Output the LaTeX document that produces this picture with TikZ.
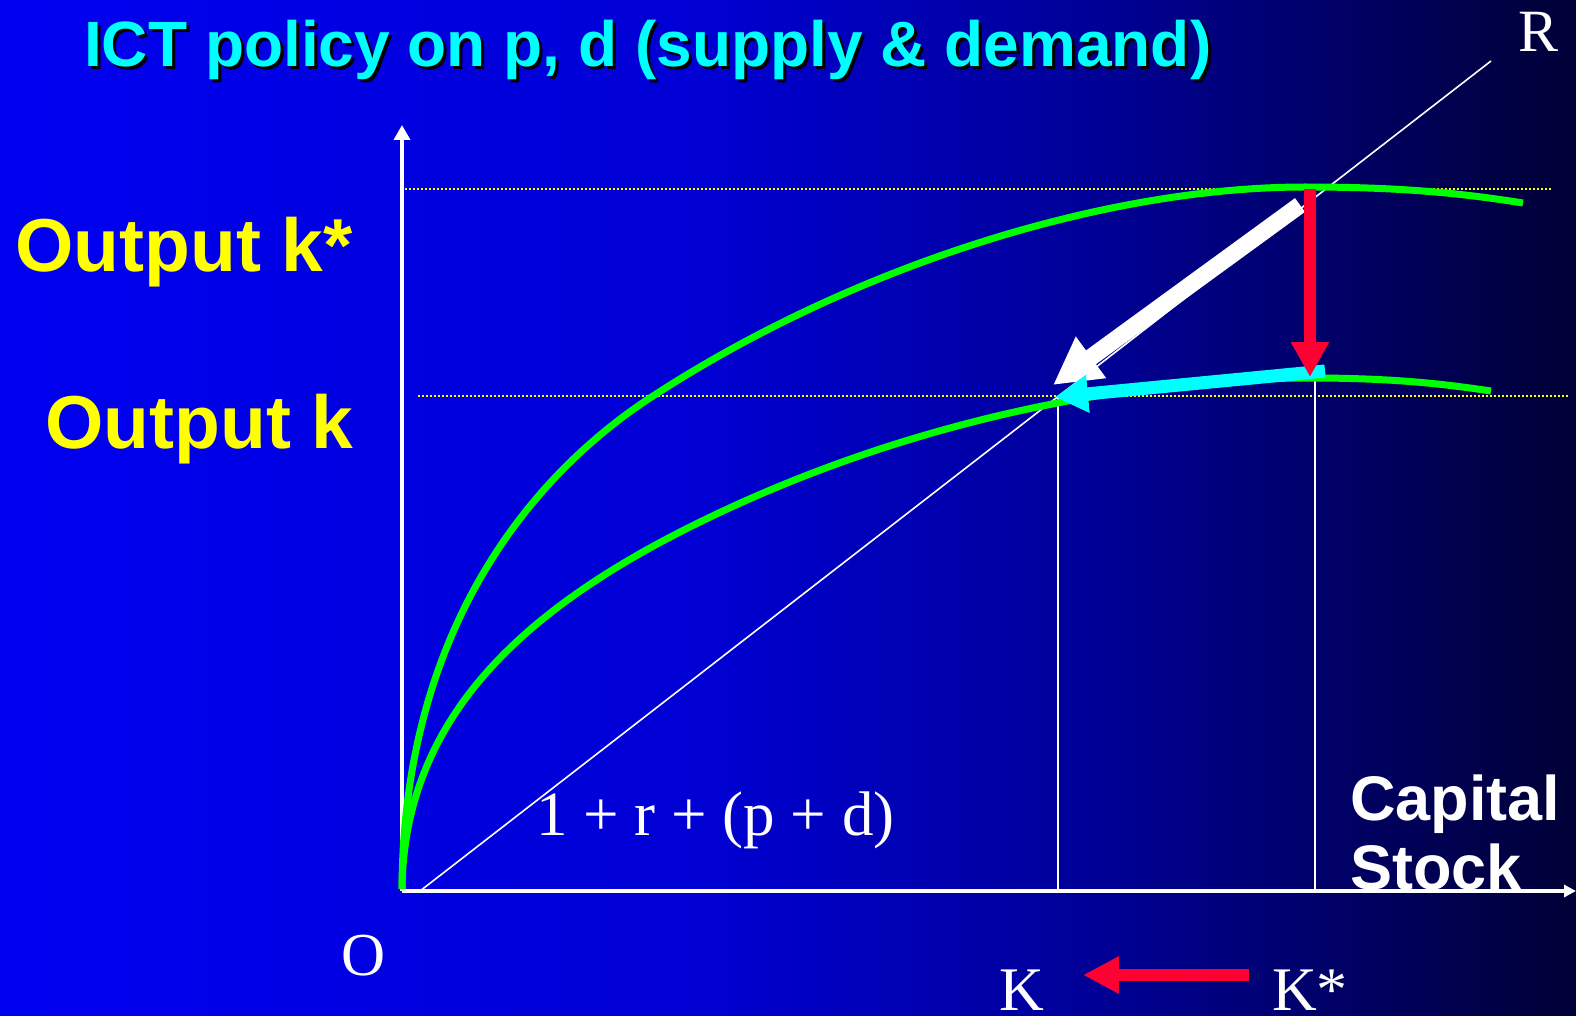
\documentclass[tikz,border=0pt]{standalone}
\usepackage{fontspec}
\setmainfont{Liberation Serif}
\newfontfamily\arialfont{Liberation Sans}
\usetikzlibrary{arrows.meta}
\definecolor{curvegreen}{RGB}{0,255,0}
\definecolor{dotyellow}{RGB}{255,255,0}
\definecolor{titlecyan}{RGB}{0,255,255}
\definecolor{labelyellow}{RGB}{255,255,0}
\definecolor{arrowred}{RGB}{255,0,51}
\begin{document}
\begin{tikzpicture}[x=1pt,y=-1pt,
  axisline/.style={draw=white,line width=3.5pt},
  thinwhite/.style={draw=white,line width=1.6pt},
  dotline/.style={draw=dotyellow,line width=2pt,dash pattern=on 2pt off 2pt},
  greencurve/.style={draw=curvegreen,line width=7pt},
  arialbold/.style={font=\arialfont\bfseries\fontsize{75}{80}\selectfont,inner sep=0pt,anchor=base west},
  timeslabel/.style={font=\fontsize{60}{66}\selectfont,text=white,inner sep=0pt,anchor=base west},
  blockarrow/.style={line cap=butt}
]
\useasboundingbox (0,0) rectangle (1576,1016);
% background gradient
\foreach \i in {0,...,157}{
  \pgfmathsetmacro\xx{10*\i+5}
  \pgfmathtruncatemacro\bb{\xx<700 ? 242-30*(\xx/700) : (\xx<1100 ? 212-62*((\xx-700)/400) : 150-95*((\xx-1100)/476))}
  \definecolor{stripcol}{RGB}{0,0,\bb}
  \fill[stripcol] (10*\i-0.5,-1) rectangle (10*\i+10.5,1017);
}
% coordinates
\coordinate (O) at (402,891);
\coordinate (yTop) at (402,125);
\coordinate (xEnd) at (1576,891);
\coordinate (rStart) at (420,891);
\coordinate (rEnd) at (1491,61);
\coordinate (dUpA) at (405,189);
\coordinate (dUpB) at (1552,189);
\coordinate (dLoA) at (418,396);
\coordinate (dLoB) at (1568,396);
\coordinate (vK) at (1058,397);
\coordinate (vKb) at (1058,891);
\coordinate (vKs) at (1315,377);
\coordinate (vKsb) at (1315,891);
% dotted level lines
\draw[dotline] (dUpA) -- (dUpB);
\draw[dotline] (dLoA) -- (dLoB);
% axes
\draw[axisline,-{Triangle[length=15pt,width=16pt]}] (O) -- (yTop);
\draw[axisline,-{Triangle[length=12pt,width=12pt]}] (O) -- (xEnd);
% ray OR
\draw[thinwhite] (rStart) -- (rEnd);
% verticals
\draw[thinwhite] (vK) -- (vKb);
\draw[thinwhite] (vKs) -- (vKsb);
% curves
\draw[greencurve] (402,889) .. controls (403,639) and (523,480) .. (653,396)
   .. controls (853,266) and (1105,187) .. (1305,187)
   .. controls (1400,187) and (1460,193) .. (1523,203);
\draw[greencurve] (402,889) .. controls (404,720) and (520,610) .. (700,522)
   .. controls (900,424) and (1120,378) .. (1310,378)
   .. controls (1400,378) and (1450,385) .. (1491,391);
% arrows
\coordinate (wA) at (1300,205);
\coordinate (wB) at (1053,385);
\draw[blockarrow,draw=white,line width=17pt,-{Triangle[length=47pt,width=48pt]}] (wA) -- (wB);
\coordinate (cA) at (1325,371);
\coordinate (cB) at (1055,397);
\draw[blockarrow,draw=titlecyan,line width=13pt,-{Triangle[length=33pt,width=36pt]}] (cA) -- (cB);
\coordinate (rA) at (1310,189);
\coordinate (rB) at (1310,377);
\draw[blockarrow,draw=arrowred,line width=12pt,-{Triangle[length=35pt,width=36pt]}] (rA) -- (rB);
\coordinate (bA) at (1249,975);
\coordinate (bB) at (1083,975);
\draw[blockarrow,draw=arrowred,line width=12pt,-{Triangle[length=36pt,width=35pt]}] (bA) -- (bB);
% title
\node[arialbold,font=\arialfont\bfseries\fontsize{64}{70}\selectfont,text=black] (titleshadow) at (87,70) {ICT policy on p, d (supply \& demand)};
\node[arialbold,font=\arialfont\bfseries\fontsize{64}{70}\selectfont,text=titlecyan] (title) at (84,67) {ICT policy on p, d (supply \& demand)};
% output labels
\node[arialbold,text=labelyellow] (outstar) at (15,272) {Output k*};
\node[arialbold,text=labelyellow] (outk) at (45,448) {Output k};
% capital stock
\node[arialbold,font=\arialfont\bfseries\fontsize{63}{68}\selectfont,text=white] (capital) at (1350,820) {Capital};
\node[arialbold,font=\arialfont\bfseries\fontsize{63}{68}\selectfont,text=white] (stock) at (1350,889) {Stock};
% serif labels
\node[timeslabel,font=\fontsize{63}{68}\selectfont] (slope) at (536,835) {1 + r + (p + d)};
\node[timeslabel,font=\fontsize{61}{66}\selectfont] (Olabel) at (341,975) {O};
\node[timeslabel,font=\fontsize{62}{68}\selectfont] (Klabel) at (999,1010) {K};
\node[timeslabel,font=\fontsize{62}{68}\selectfont] (Kstar) at (1272,1010) {K*};
\node[timeslabel,font=\fontsize{60}{66}\selectfont] (Rlabel) at (1518,52) {R};
\end{tikzpicture}
\end{document}
